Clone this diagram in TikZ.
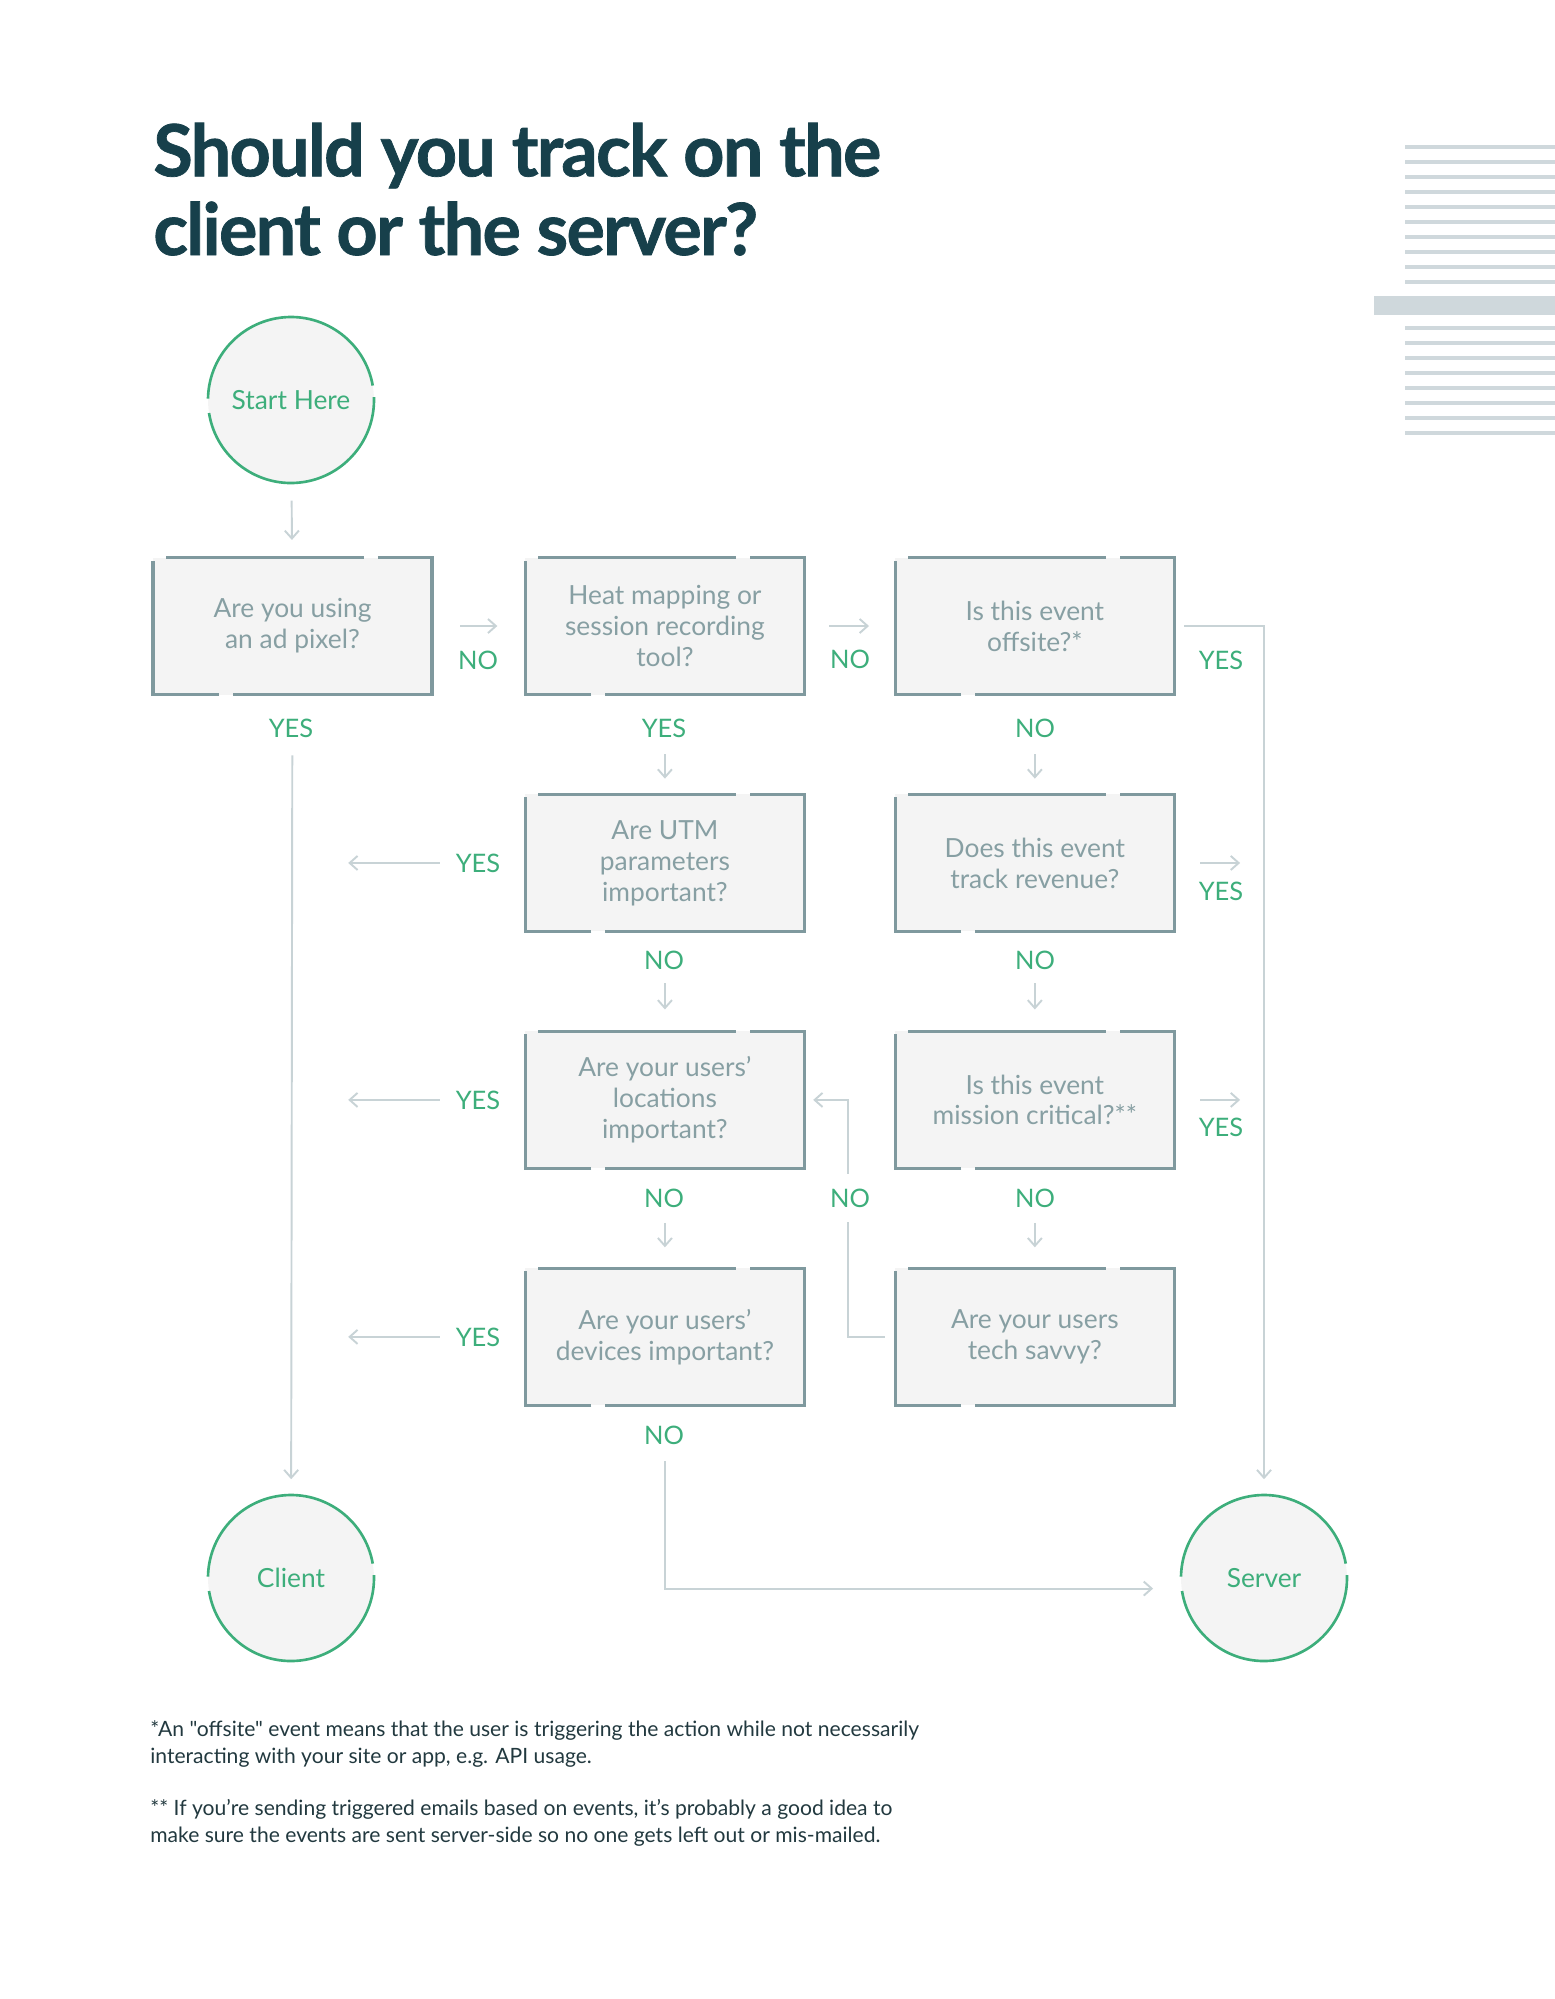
\documentclass[tikz,border=0pt]{standalone}
\usepackage{fontspec}
\setmainfont{Lato}
\newfontfamily\headfont[LetterSpace=-2.5,FakeBold=1]{Lato}
\newfontfamily\notefont[Ligatures=TeXOff]{Lato}
\usetikzlibrary{arrows.meta,calc,positioning}

\definecolor{titleteal}{HTML}{17404B}
\definecolor{okgreen}{HTML}{3DAE7B}
\definecolor{boxedge}{HTML}{7F999E}
\definecolor{boxfill}{HTML}{F4F4F4}
\definecolor{boxtext}{HTML}{879FA3}
\definecolor{flowgray}{HTML}{C8D3D6}
\definecolor{decogray}{HTML}{CFD8DC}
\definecolor{notetext}{HTML}{22393F}

\begin{document}
\begin{tikzpicture}[x=0.02cm,y=0.02cm,
  qbox/.style={rectangle,fill=boxfill,minimum width=5.58cm,minimum height=2.74cm,
    inner sep=0pt,outer sep=0pt,align=center,text=boxtext,font=\fontsize{15}{17.6}\selectfont},
  endpoint/.style={circle,fill=boxfill,minimum size=3.32cm,inner sep=0pt,outer sep=0pt,
    text=okgreen,font=\fontsize{15}{17}\selectfont},
  boxline/.style={draw=boxedge,line width=1.9pt,line join=miter},
  ring/.style={draw=okgreen,line width=1.5pt},
  flow/.style={draw=flowgray,line width=1.1pt,-{Straight Barb[length=4.5pt,width=8pt]}},
  lbl/.style={text=okgreen,font=\fontsize{14.5}{17}\selectfont,inner sep=1pt},
  note/.style={anchor=base west,align=left,text=notetext,font=\fontsize{12}{15.2}\notefont,inner sep=0pt},
  deco/.style={draw=decogray,line width=2pt}]
  \useasboundingbox (0,0) rectangle (1555,-1999);

  % title and side stripes
  \node[anchor=base west,align=left,text=titleteal,font=\fontsize{41}{44.8}\headfont\bfseries,inner sep=0pt]
    (title) at (153,-255) {Should you track on the\\client or the server?};
  \foreach \y in {147,162,177,192,207,222,237,252,267,282,328,343,358,373,388,403,418,433}
    \draw[deco] (1405,-\y) -- (1555,-\y);
  \fill[decogray] (1374,-296) rectangle (1555,-315);

  % end points
  \node[endpoint] (start)  at (291,-400)  {Start Here};
  \node[endpoint] (client) at (291,-1578) {Client};
  \node[endpoint] (server) at (1264,-1578) {Server};
  \foreach \n in {start,client,server}{
    \begin{scope}[shift={(\n.center)}]
      \draw[ring] (10:83) arc[start angle=10,end angle=179,radius=83];
      \draw[ring] (189:83) arc[start angle=189,end angle=362,radius=83];
    \end{scope}
  }

  % questions
  \node[qbox] (a1) at (292.5,-626) {Are you using\\an ad pixel?};
  \node[qbox] (b1) [right=1.87cm of a1] {Heat mapping or\\session recording\\tool?};
  \node[qbox] (c1) [right=1.82cm of b1] {Is this event\\offsite?*};
  \node[qbox] (b2) [below=2cm of b1] {Are UTM\\parameters\\important?};
  \node[qbox] (c2) [below=2cm of c1] {Does this event\\track revenue?};
  \node[qbox] (b3) [below=2cm of b2] {Are your users’\\locations\\important?};
  \node[qbox] (c3) [below=2cm of c2] {Is this event\\mission critical?**};
  \node[qbox] (b4) [below=2cm of b3] {Are your users’\\devices important?};
  \node[qbox] (c4) [below=2cm of c3] {Are your users\\tech savvy?};
  \foreach \n in {a1,b1,c1,b2,c2,b3,c3,b4,c4}{
    \draw[boxline] ($(\n.north west)+(13,0)$) -- ($(\n.north east)+(-68,0)$);
    \draw[boxline] ($(\n.north east)+(-54,0)$) -- (\n.north east) -- (\n.south east) -- ($(\n.south west)+(80,0)$);
    \draw[boxline] ($(\n.south west)+(66,0)$) -- (\n.south west) -- ($(\n.north west)+(0,-3)$);
  }

  % points on the client and server lines
  \coordinate (cl2) at (a1.south |- b2.west);
  \coordinate (cl3) at (a1.south |- b3.west);
  \coordinate (cl4) at (a1.south |- b4.west);
  \coordinate (sv2) at (server.north |- c2.east);
  \coordinate (sv3) at (server.north |- c3.east);

  % connectors
  \draw[flow,shorten <=10pt,shorten >=10pt] (start) -- (a1);
  \draw[flow,shorten <=16pt,shorten >=16pt] (a1) -- (b1);
  \draw[flow,shorten <=14pt,shorten >=15pt] (b1) -- (c1);
  \draw[flow,shorten <=34.6pt,shorten >=9pt] (a1) -- (client);
  \draw[flow,shorten <=5.7pt,shorten >=9pt] (c1.east) -| (server.north);
  \path (b1) edge[flow,shorten <=34pt,shorten >=9pt] (b2)
        (c1) edge[flow,shorten <=34pt,shorten >=9pt] (c2);
  \path (b2) edge[flow,shorten <=29.5pt,shorten >=12.5pt] (b3)
        (c2) edge[flow,shorten <=29.5pt,shorten >=12.5pt] (c3);
  \path (b3) edge[flow,shorten <=31pt,shorten >=12pt] (b4)
        (c3) edge[flow,shorten <=31pt,shorten >=12pt] (c4);
  \foreach \n/\m in {b2/cl2,b3/cl3,b4/cl4}
    \draw[flow,shorten <=48.8pt,shorten >=31.7pt] (\n.west) -- (\m);
  \foreach \n/\m in {c2/sv2,c3/sv3}
    \draw[flow,shorten <=14.7pt,shorten >=13.6pt] (\n.east) -- (\m);
  \draw[flow,shorten <=6pt,shorten >=5pt] (c4.west) -- ($(c4.west)+(-47,0)$) |- (b3.east);
  \draw[flow,shorten <=31.8pt,shorten >=15.9pt] (b4.south) |- ([yshift=-6pt]server.west);

  % answers
  \node[lbl] at (478,-660)  {NO};
  \node[lbl] at (850,-659)  {NO};
  \node[lbl] at (1221,-660) {YES};
  \node[lbl] at (291,-728)  {YES};
  \node[lbl] at (664,-728)  {YES};
  \node[lbl] at (1035,-728) {NO};
  \node[lbl] at (478,-863)  {YES};
  \node[lbl] at (1221,-891) {YES};
  \node[lbl] at (664,-960)  {NO};
  \node[lbl] at (1035,-960) {NO};
  \node[lbl] at (478,-1100) {YES};
  \node[lbl] at (1221,-1127) {YES};
  \node[lbl] at (664,-1198) {NO};
  \node[lbl,fill=white,minimum height=27pt] at (850,-1198) {NO};
  \node[lbl] at (1035,-1198) {NO};
  \node[lbl] at (478,-1337) {YES};
  \node[lbl] at (664,-1435) {NO};

  % notes
  \node[note] (note1) at (150,-1763) {*An "offsite" event means that the user is triggering the action while not necessarily\\interacting with your site or app, e.g. API usage.};
  \node[note] (note2) at (150,-1842) {** If you’re sending triggered emails based on events, it’s probably a good idea to\\make sure the events are sent server-side so no one gets left out or mis-mailed.};
\end{tikzpicture}
\end{document}
